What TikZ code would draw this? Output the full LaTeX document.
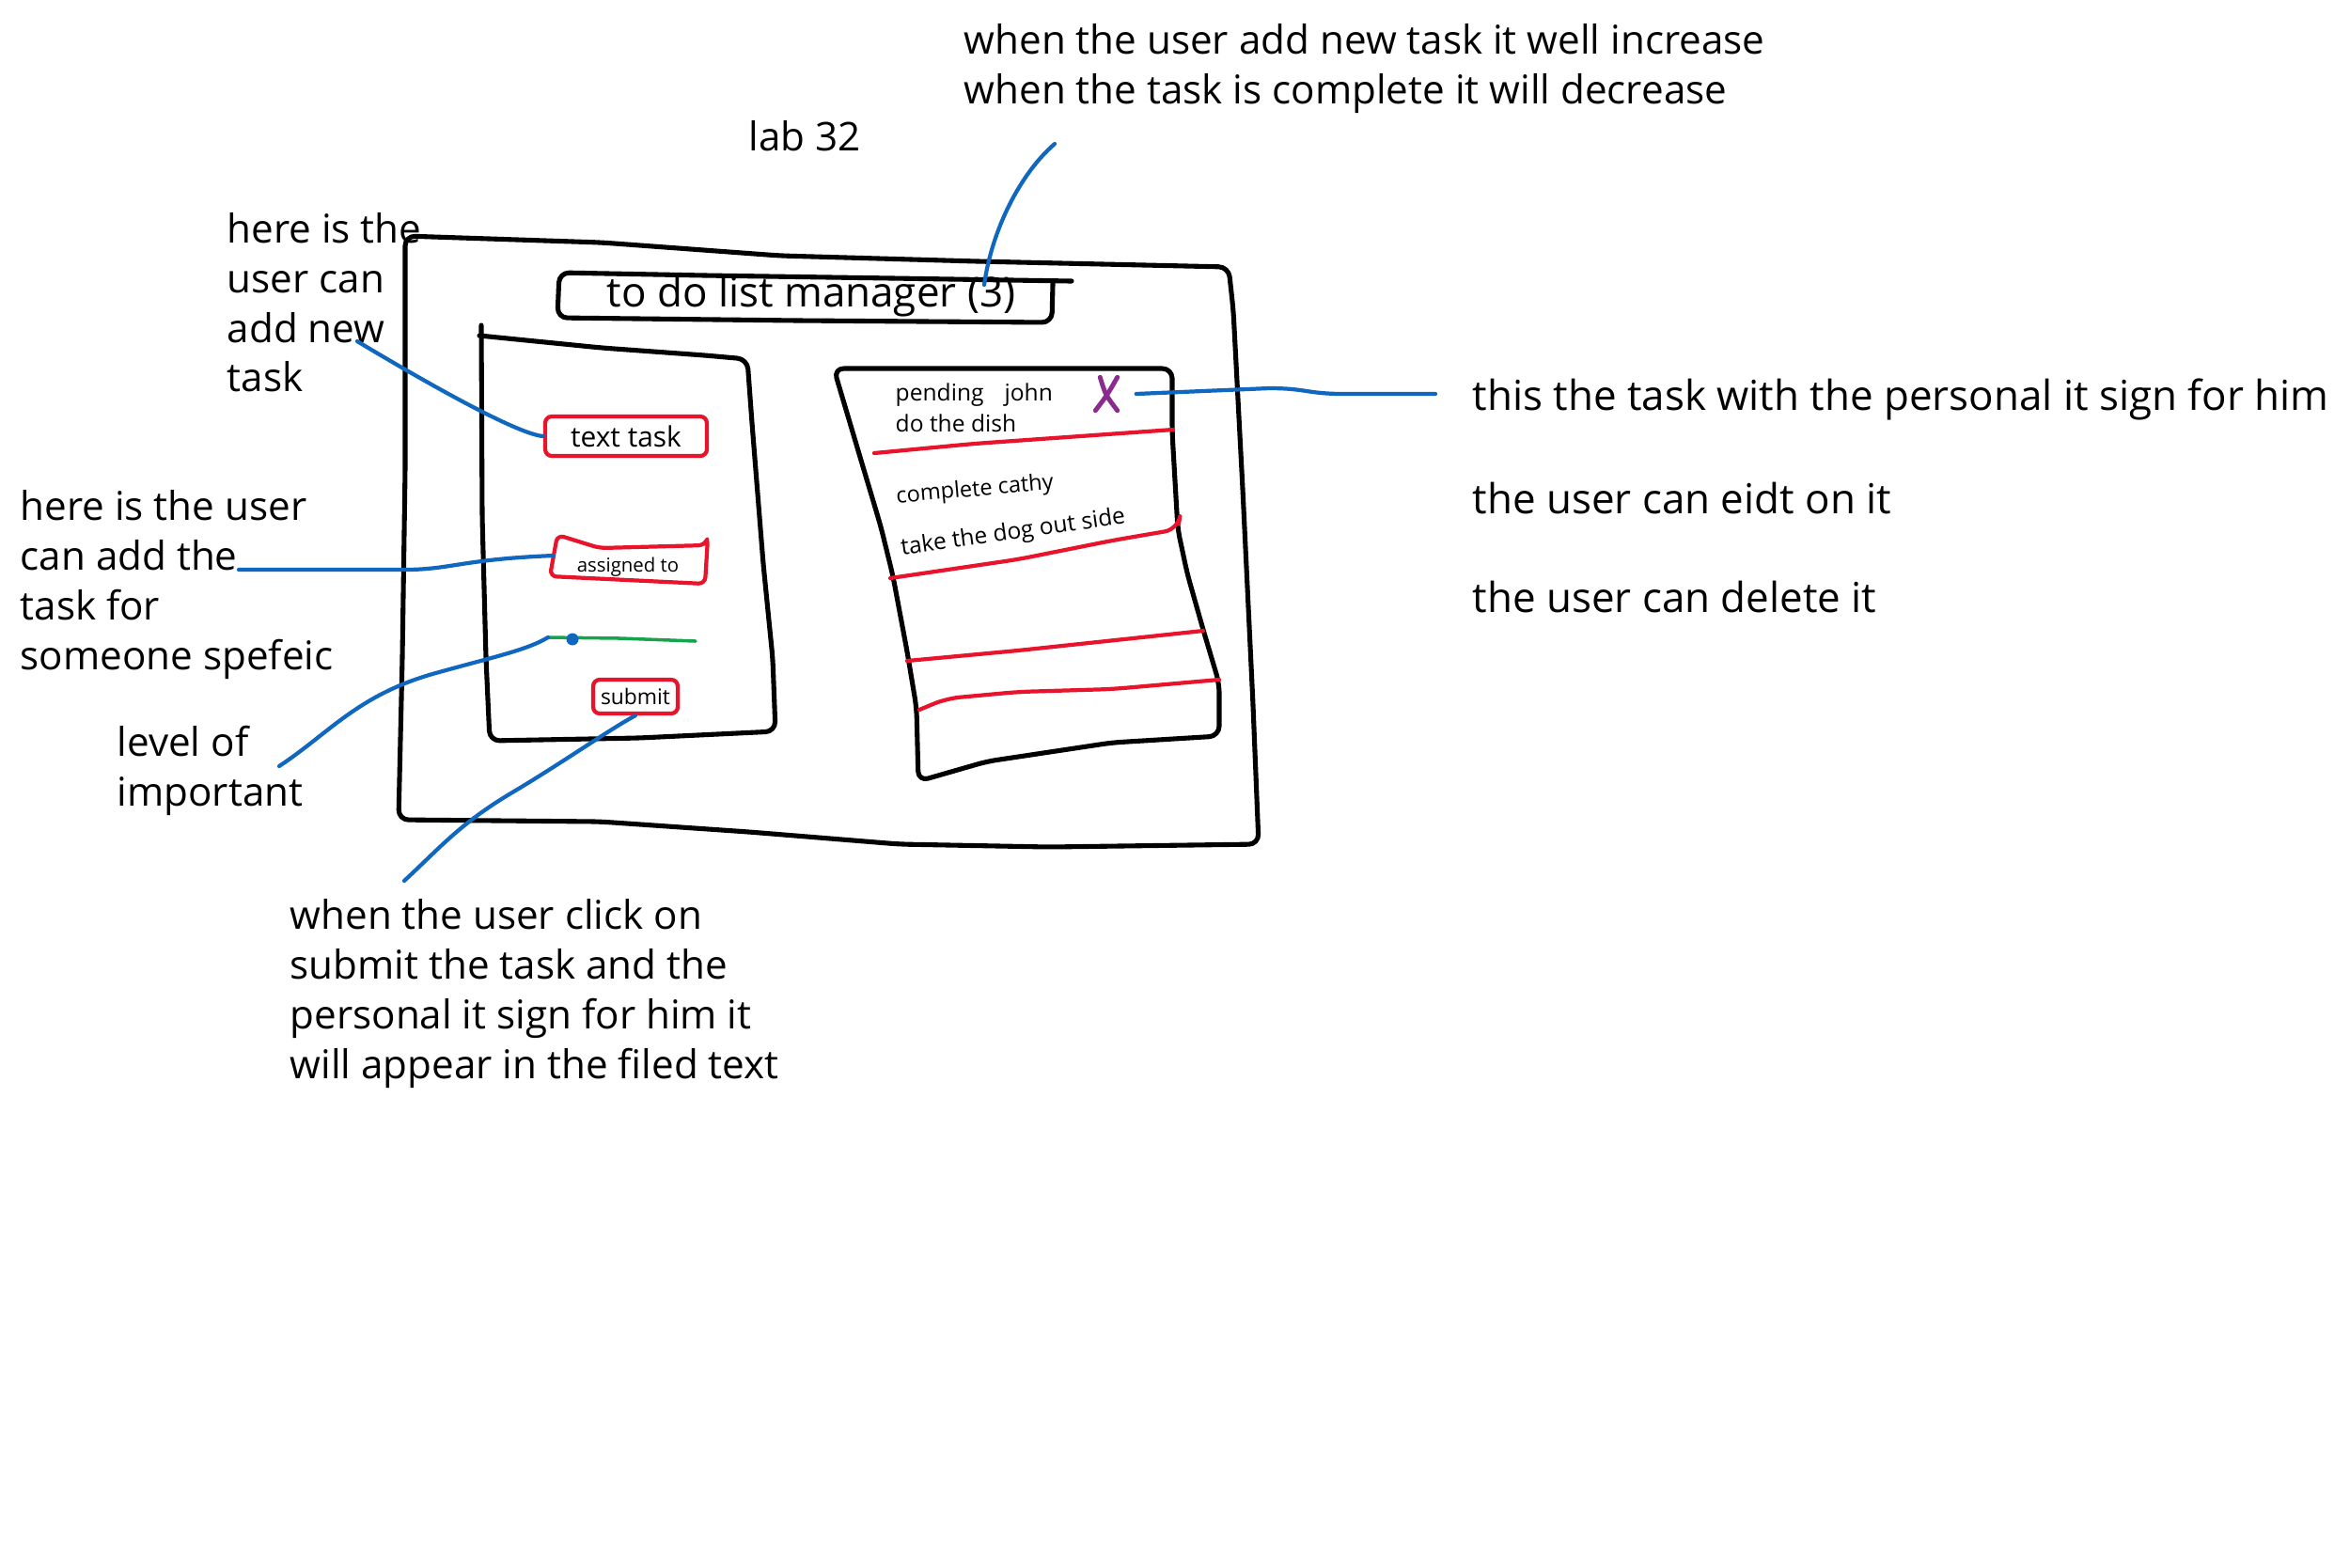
\documentclass[tikz,border=0pt]{standalone}
\usepackage{fontspec}
\setmainfont{Open Sans}
\usepackage{tikz}
\usetikzlibrary{calc}
\definecolor{inkblue}{HTML}{0F67C0}
\definecolor{inkred}{HTML}{E8142B}
\definecolor{inkgreen}{HTML}{15A44D}
\definecolor{inkpurple}{HTML}{8A2B8E}
\tikzset{
  ink/.style={line width=1.45pt, line cap=round, line join=round, rounded corners=3pt},
  redink/.style={line width=1.2pt, inkred, line cap=round, line join=round, rounded corners=4pt},
  link/.style={line width=1.2pt, inkblue, line cap=round},
  note/.style={anchor=west, align=left, inner sep=0pt, font=\fontsize{12}{15}\selectfont},
  small/.style={anchor=west, inner sep=0pt, font=\fontsize{7}{9}\selectfont},
  redbox/.style={draw=inkred, line width=1.2pt, rounded corners=2pt, inner sep=0pt},
}
\begin{document}
\begin{tikzpicture}[x=1cm,y=-1cm]
\useasboundingbox (0,0) rectangle (25,16.67);

\node[note] (lab) at (7.96,1.45) {lab 32};
\node[note] (cnt) at (10.25,0.73) {when the user add new task it well increase\\when the task is complete it will decrease};
\node[note] (addn) at (2.41,3.22) {here is the\\user can\\add new\\task};
\node[note] (asgn) at (0.21,6.22) {here is the user\\can add the\\task for\\someone spefeic};
\node[note] (lvl) at (1.24,8.20) {level of\\important};
\node[note] (sbmn) at (3.08,10.57) {when the user click on\\submit the task and the\\personal it sign for him it\\will appear in the filed text};
\node[note, font=\fontsize{12.5}{15}\selectfont] (rw1) at (15.66,4.25) {this the task with the personal it sign for him};
\node[note, font=\fontsize{12.5}{15}\selectfont] (rw2) at (15.66,5.30) {the user can eidt on it};
\node[note, font=\fontsize{12.5}{15}\selectfont] (rw3) at (15.66,6.35) {the user can delete it};

\draw[ink] (4.31,2.51) -- (6.4,2.58) -- (8.3,2.72) -- (10.4,2.78) -- (13.07,2.84) -- (13.12,3.30) -- (13.22,5.2) -- (13.33,7.5) -- (13.39,8.98) -- (11.16,9.01) -- (9.57,8.98) -- (7.97,8.85) -- (6.38,8.74) -- (4.24,8.72) -- (4.28,7.0) -- (4.31,5.0) -- cycle;

\draw[ink] (11.40,2.99) -- (9.5,2.96) -- (7.5,2.93) -- (5.95,2.90) -- (5.93,3.38) -- (8.5,3.41) -- (11.19,3.43) -- (11.20,3.02);
\node[note, anchor=center, font=\fontsize{12.5}{15}\selectfont] (ttl) at (8.63,3.15) {to do list manager (3)};

\draw[ink] (5.12,3.46) -- (5.13,5.5) -- (5.17,7.0) -- (5.21,7.88) -- (6.8,7.85) -- (8.25,7.78) -- (8.22,7.0) -- (8.12,6.0) -- (8.00,4.5) -- (7.95,3.82) -- (7.5,3.78) -- (6.4,3.70) -- (5.10,3.57);

\draw[ink] (8.87,3.92) -- (12.47,3.92) -- (12.47,4.6) -- (12.53,5.63) -- (12.63,6.10) -- (12.80,6.70) -- (12.97,7.27) -- (12.97,7.83) -- (11.83,7.90) -- (10.50,8.10) -- (9.77,8.31) -- (9.75,7.53) -- (9.65,6.93) -- (9.50,6.13) -- (9.37,5.60) -- (9.17,4.93) -- cycle;

\draw[redink] (9.30,4.82) -- (10.36,4.72) -- (12.48,4.57);
\draw[redink] (9.47,6.15) -- (10.83,5.95) -- (11.83,5.75) -- (12.53,5.63) -- (12.54,5.57);
\draw[redink] (9.65,7.03) -- (10.83,6.92) -- (12.80,6.71);
\draw[redink] (9.78,7.55) -- (10.07,7.43) -- (10.83,7.36) -- (11.83,7.33) -- (12.97,7.23);

\node[small] (pnd) at (9.52,4.20) {pending\hspace{2.2mm}john};
\node[small] (dsh) at (9.52,4.50) {do the dish};
\node[small, font=\fontsize{6.7}{8}\selectfont, rotate=5] (cmp) at (9.53,5.29) {complete cathy};
\node[small, rotate=8] (dog) at (9.58,5.84) {take the dog out side};
\node[minimum width=0.22cm, minimum height=0.34cm, inner sep=0pt] (xmk) at (11.77,4.19) {};
\draw[inkpurple, line width=1.4pt, line cap=round] (xmk.north east) .. controls (11.78,4.20) .. (xmk.south west);
\draw[inkpurple, line width=1.4pt, line cap=round] ([xshift=0.5mm]xmk.north west) .. controls (11.76,4.20) .. (xmk.south east);

\node[redbox, minimum width=1.72cm, minimum height=0.42cm, font=\fontsize{8.5}{10}\selectfont] (txt) at (6.66,4.64) {text task};
\node[inner sep=0pt, font=\fontsize{5.8}{7}\selectfont] (asg) at (6.68,6.03) {assigned to};
\coordinate (asg-nw) at (5.93,5.69);
\coordinate (asg-sw) at (5.85,6.13);
\draw[redink, rounded corners=2pt] (asg-nw) -- (6.38,5.83) -- (7.50,5.80) -- (7.53,5.72) -- (7.50,6.21) -- (asg-sw) -- cycle;
\node[redbox, minimum width=0.9cm, minimum height=0.36cm, font=\fontsize{6.5}{8}\selectfont] (sbm) at (6.76,7.41) {submit};

\coordinate (sl1) at (5.83,6.78);
\coordinate (sl2) at (7.40,6.82);
\draw[inkgreen, line width=1pt, line cap=round] (sl1) -- (6.6,6.79) -- (sl2);
\node[circle, fill=inkblue, inner sep=0pt, minimum size=0.13cm] (knob) at (6.09,6.80) {};

\coordinate (n0) at (11.22,1.53);
\coordinate (ttl3) at (10.47,3.03);
\coordinate (n1) at (3.80,3.63);
\coordinate (n2) at (2.54,6.06);
\coordinate (n3) at (2.97,8.15);
\coordinate (n4) at (4.30,9.37);
\coordinate (n5) at (15.27,4.19);
\draw[link] (n0) .. controls (10.85,1.85) and (10.55,2.45) .. (ttl3);
\draw[link] (n1) .. controls (4.5,4.05) and (5.5,4.62) .. (txt.west);
\draw[link] (n2) -- (4.3,6.06) .. controls (4.8,6.06) and (4.9,5.95) .. ($(asg-nw)!0.5!(asg-sw)$);
\draw[link] (n3) .. controls (3.5,7.8) and (3.8,7.4) .. (4.6,7.17) .. controls (5.2,7.0) and (5.6,6.92) .. (sl1);
\draw[link] (n4) .. controls (4.7,9.0) and (4.9,8.75) .. (5.5,8.4) .. controls (6.0,8.1) and (6.5,7.75) .. (sbm.south);
\draw[link] ([xshift=2mm]xmk.east) -- (13.5,4.13) .. controls (13.9,4.13) and (13.9,4.19) .. (14.3,4.19) -- (n5);
\end{tikzpicture}
\end{document}
